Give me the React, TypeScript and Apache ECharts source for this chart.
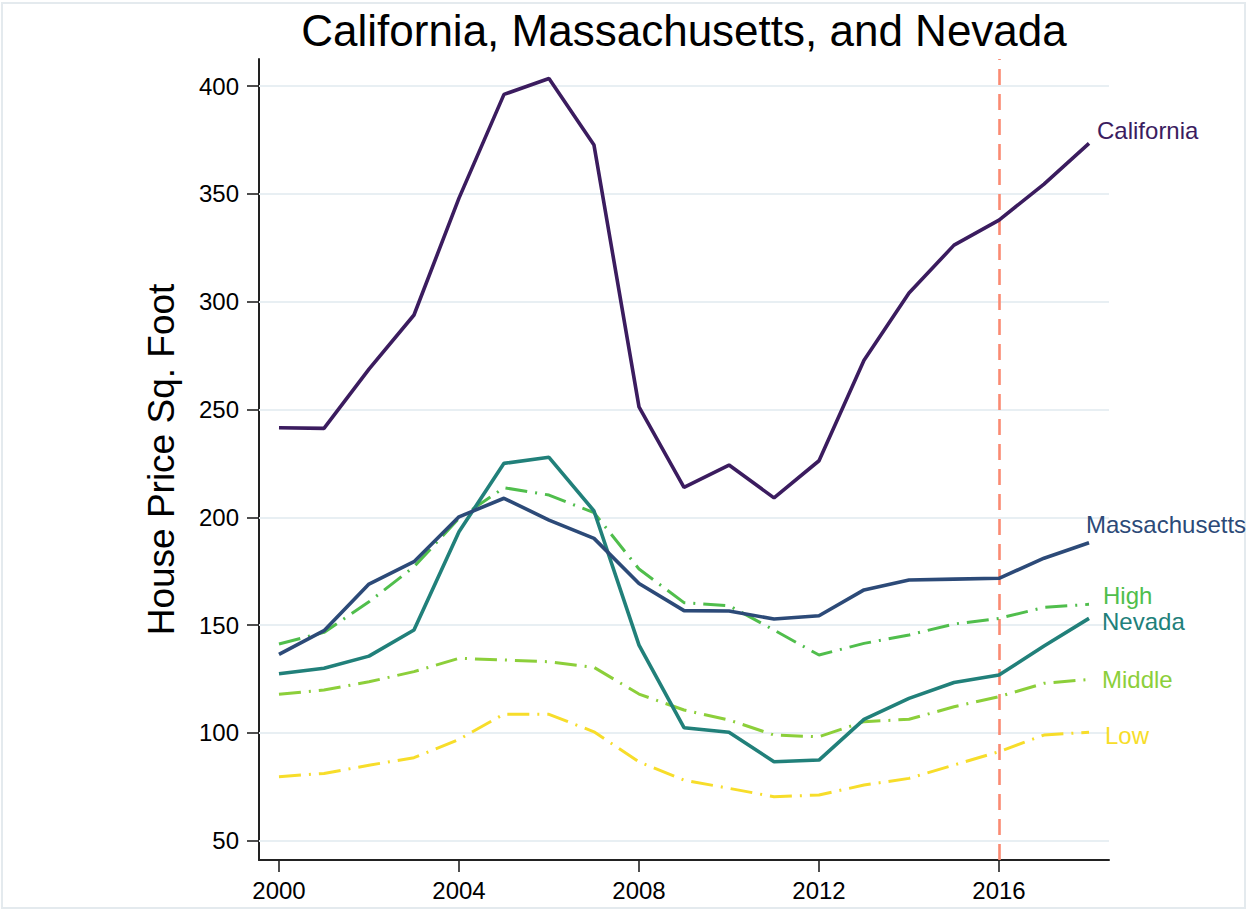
import React, { useEffect, useRef } from "react";
import * as echarts from "echarts";

const years = [2000, 2001, 2002, 2003, 2004, 2005, 2006, 2007, 2008, 2009, 2010, 2011, 2012, 2013, 2014, 2015, 2016, 2017, 2018];
const california = [241.5, 241.2, 268.7, 293.8, 348, 396.1, 403.5, 372.6, 251.2, 213.9, 224.2, 209, 226.2, 272.8, 304, 326.2, 337.8, 354.5, 373.4];
const massachusetts = [136.4, 147.4, 169, 179.4, 200.2, 208.8, 198.7, 190.2, 169.3, 156.7, 156.5, 152.8, 154.3, 166.3, 170.9, 171.3, 171.7, 181, 188.2];
const nevada = [127.4, 130, 135.6, 147.7, 193.3, 225, 227.8, 202.9, 140.7, 102.4, 100.3, 86.6, 87.4, 106.3, 116, 123.4, 126.8, 140.3, 153.1];
const high = [141.2, 146.6, 160.8, 177, 199.5, 213.7, 210.3, 202.1, 176, 160.4, 159, 147.7, 136.1, 141.5, 145.4, 150.5, 153.1, 158.2, 159.6];
const middle = [117.9, 119.9, 123.7, 128.4, 134.6, 133.8, 133, 130.4, 118, 110.6, 106, 99, 98.2, 105.2, 106.3, 112.1, 116.8, 123, 124.8];
const low = [79.7, 81.2, 85, 88.5, 97, 108.7, 108.6, 100.5, 86.6, 78.1, 74.3, 70.4, 71.2, 75.8, 78.9, 85.1, 91.3, 99, 100.3];
const yTicks = [50, 100, 150, 200, 250, 300, 350, 400];
const markerYear = 2016;

const FONT = "'Liberation Sans', Arial, Helvetica, sans-serif";

export default function App() {
  const ref = useRef<HTMLDivElement>(null);
  useEffect(() => {
    if (!ref.current) return;
    const chart = echarts.init(ref.current, null, { renderer: "svg" });
    const pair = (arr: number[]) => arr.map((v, i) => [years[i], v]);
    const dashDot = [22, 8, 2, 8];
    const mk = (name: string, arr: number[], color: string, dashed: boolean, offset: number[]) => ({
      name,
      type: "line",
      xAxisIndex: 0,
      yAxisIndex: 0,
      data: pair(arr),
      showSymbol: false,
      symbol: "none",
      z: dashed ? 3 : 4,
      lineStyle: { color, width: dashed ? 3 : 3.6, type: dashed ? dashDot : "solid" },
      endLabel: {
        show: true,
        formatter: name,
        color,
        fontSize: 24,
        fontFamily: FONT,
        offset,
      },
    });
    chart.setOption({
      animation: false,
      backgroundColor: "#ffffff",
      textStyle: { fontFamily: FONT },
      graphic: [
        {
          type: "rect",
          shape: { x: 2, y: 3, width: 1243, height: 905 },
          style: { fill: "none", stroke: "#e4eaee", lineWidth: 2 },
          silent: true,
        },
        {
          type: "text",
          x: 684,
          y: 30,
          style: {
            text: "California, Massachusetts, and Nevada",
            fontSize: 44,
            fontFamily: FONT,
            fill: "#000",
            align: "center",
            verticalAlign: "middle",
          },
        },
      ],
      grid: [
        { left: 259, right: 140, top: 59, bottom: 50 },
        { left: 279, right: 160, top: 86, bottom: 69.3 },
      ],
      xAxis: [
        {
          gridIndex: 0,
          type: "value",
          min: 1999.556,
          max: 2018.444,
          axisLine: { show: true, lineStyle: { color: "#222", width: 2 } },
          axisTick: { show: false },
          axisLabel: { show: false },
          splitLine: { show: false },
        },
        {
          gridIndex: 1,
          type: "value",
          min: 2000,
          max: 2018,
          interval: 4,
          offset: 19.3,
          axisLine: { show: false },
          axisTick: { show: true, length: 12, lineStyle: { color: "#222", width: 1.6 } },
          axisLabel: {
            show: true,
            fontSize: 24,
            color: "#000",
            margin: 18,
            fontFamily: FONT,
            showMaxLabel: false,
            formatter: (v: number) => String(v),
          },
          splitLine: { show: false },
        },
      ],
      yAxis: [
        {
          gridIndex: 0,
          type: "value",
          min: 41.05,
          max: 412.52,
          axisLine: { show: true, lineStyle: { color: "#222", width: 2 } },
          axisTick: { show: false },
          axisLabel: { show: false },
          splitLine: { show: false },
          name: "House Price Sq. Foot",
          nameLocation: "middle",
          nameRotate: 90,
          nameGap: 79,
          nameTextStyle: { fontSize: 37, color: "#000", fontFamily: FONT },
        },
        {
          gridIndex: 1,
          type: "value",
          min: 50,
          max: 400,
          interval: 50,
          offset: 20,
          axisLine: { show: false },
          axisTick: { show: true, length: 12, lineStyle: { color: "#222", width: 1.6 } },
          axisLabel: { show: true, fontSize: 24, color: "#000", margin: 20, fontFamily: FONT },
          splitLine: { show: false },
        },
      ],
      series: [
        {
          name: "grid",
          type: "line",
          xAxisIndex: 0,
          yAxisIndex: 0,
          data: [],
          z: 1,
          markLine: {
            silent: true,
            symbol: "none",
            z: 1,
            label: { show: false },
            lineStyle: { color: "#e8eff3", width: 2, type: "solid" },
            data: yTicks.map((v) => ({ yAxis: v })),
          },
        },
        {
          name: "marker",
          type: "line",
          xAxisIndex: 0,
          yAxisIndex: 0,
          data: [],
          z: 2,
          markLine: {
            silent: true,
            symbol: "none",
            z: 2,
            label: { show: false },
            lineStyle: { color: "#fa8a72", width: 2.6, type: [16, 9] },
            data: [{ xAxis: markerYear }],
          },
        },
        mk("Low", low, "#f7dd2a", true, [8, 3]),
        mk("Middle", middle, "#8ccf3a", true, [5, 0]),
        mk("High", high, "#50be4c", true, [6, -9]),
        mk("Nevada", nevada, "#21807a", false, [5, 3]),
        mk("Massachusetts", massachusetts, "#2c4a78", false, [-11, -18]),
        mk("California", california, "#3b1c5f", false, [0, -13]),
      ],
    });
    return () => chart.dispose();
  }, []);
  return (
    <div
      ref={ref}
      style={{ position: "fixed", left: 0, top: 0, width: 1249, height: 910, background: "#fff" }}
    />
  );
}
